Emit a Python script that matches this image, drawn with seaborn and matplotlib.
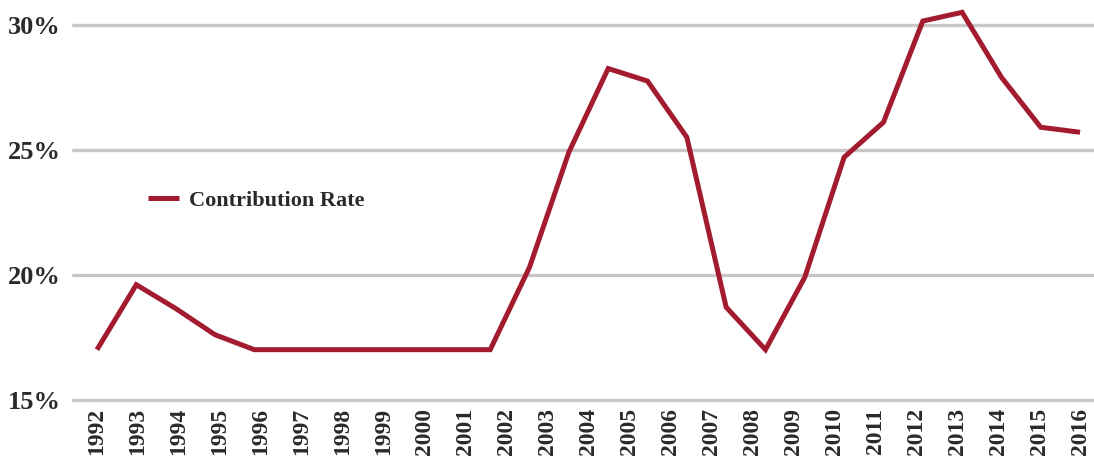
import numpy as np
import pandas as pd
import matplotlib
matplotlib.use("Agg")
import matplotlib.pyplot as plt
import seaborn as sns

# Year labels along the axis
years = list(range(1992, 2017))

# Contribution rate (%), sampled at 26 evenly spaced points across 1992-2016
contribution_rate = [
    17.0, 19.6, 18.65, 17.6, 17.0, 17.0, 17.0, 17.0, 17.0, 17.0, 17.0,
    20.3, 24.9, 28.25, 27.75, 25.5, 18.7, 17.0, 19.9, 24.7, 26.1,
    30.15, 30.5, 27.9, 25.9, 25.7,
]

y_ticks = [15, 20, 25, 30]
y_tick_labels = ["15%", "20%", "25%", "30%"]
series_name = "Contribution Rate"

line_color = "#a31b2f"
grid_color = "#c9c7c5"

sns.set_theme(style="white")
plt.rcParams["font.family"] = ["Liberation Serif", "DejaVu Serif"]

n = len(contribution_rate)
x_pos = np.linspace(years[0], years[-1], n)
df = pd.DataFrame({"x": x_pos, "rate": contribution_rate, "series": series_name})

fig = plt.figure(figsize=(10.94, 4.66), dpi=100)
ax = fig.add_axes([0.0667, 0.137, 0.9333, 0.858])

sns.lineplot(data=df, x="x", y="rate", hue="series", palette=[line_color],
             linewidth=3.6, ax=ax, zorder=3)
for ln in ax.get_lines():
    ln.set_solid_capstyle("butt")
    ln.set_solid_joinstyle("miter")

# Horizontal reference lines
for v in y_ticks:
    ax.axhline(v, color=grid_color, linewidth=2.4, zorder=1, clip_on=False)

ax.set_xlim(1991.414, 2016.34)
ax.set_ylim(14.9, 30.9)

ax.set_xticks(years)
ax.set_xticklabels([str(y) for y in years], rotation=90, fontsize=17,
                   fontweight="bold", color="#2a2a2a")
ax.set_yticks(y_ticks)
ax.set_yticklabels(y_tick_labels, fontsize=19, fontweight="bold", color="#2a2a2a")
ax.tick_params(axis="x", length=0, pad=4)
ax.tick_params(axis="y", length=0, pad=9)
for lbl in ax.get_xticklabels():
    lbl.set_verticalalignment("top")

ax.set_xlabel("")
ax.set_ylabel("")
for s in ax.spines.values():
    s.set_visible(False)

leg = ax.legend(loc="center left", bbox_to_anchor=(0.0735, 0.504), frameon=False,
                borderaxespad=0, borderpad=0, handlelength=1.4, handletextpad=0.45,
                prop={"family": "Liberation Serif", "weight": "bold", "size": 16})
for t in leg.get_texts():
    t.set_color("#2a2a2a")
for h in leg.get_lines():
    h.set_solid_capstyle("butt")

fig.savefig("out.png", dpi=100, facecolor="white")
